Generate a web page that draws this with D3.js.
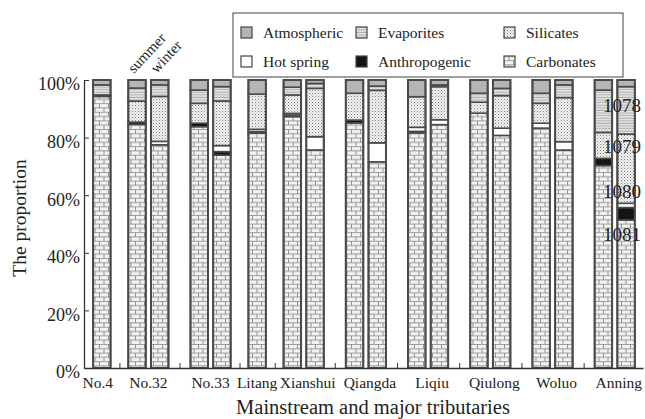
<!DOCTYPE html>
<html><head><meta charset="utf-8">
<script src="https://cdn.jsdelivr.net/npm/d3@7"></script>
<style>
html,body{margin:0;padding:0;background:#fff;}
svg{display:block;font-family:"Liberation Serif","Times New Roman",serif;}
</style></head>
<body><svg id="c" width="645" height="419"></svg>
<script>
// ---------- data ----------
const groups = ["No.4","No.32","No.33","Litang","Xianshui","Qiangda","Liqiu","Qiulong","Woluo","Anning"];
const barsPerGroup = [1,2,2,1,2,2,2,2,2,2];
const seasonLabels = ["summer","winter"];
const seriesNames = ["Carbonates","Anthropogenic","Hot spring","Silicates","Evaporites","Atmospheric"];
const carbonates    = [94.3,84.5,77.5,83.8,74.0,81.5,87.3,75.7,85.0,71.5,81.5,84.5,88.4,80.6,83.3,75.6,70.2,51.4];
const anthropogenic = [0.5,0.8,0,1.2,1.2,0.5,0.5,0,1.0,0,0.5,0,0,0,0,0,2.5,4.3];
const hotSpring     = [0,0,1.2,0,2.1,0.8,0.6,4.6,0,6.6,1.4,1.7,0,2.5,1.7,2.9,0,1.5];
const silicates     = [0,7.3,15.6,6.9,15.5,12.2,6.4,16.8,9.3,18.2,10.6,11.5,3.8,11.3,6.9,15.3,9.0,24.0];
const evaporites    = [3.5,4.5,4.0,4.6,5.0,0,2.7,1.7,0,1.5,0,0.6,3.1,2.5,3.5,4.4,14.7,16.5];
const atmospheric   = [1.7,2.8,1.7,3.5,2.3,4.9,2.5,1.2,4.6,2.1,5.8,1.7,4.6,2.9,4.6,1.7,3.5,2.3];
const yTicks = [0,0.2,0.4,0.6,0.8,1.0];
const annotLabels = ["1078","1079","1080","1081"];
const annotValues = [0.913,0.771,0.615,0.465];
const legendRows = [["Atmospheric","Evaporites","Silicates"],["Hot spring","Anthropogenic","Carbonates"]];

// ---------- build table ----------
const seriesArrays = [carbonates,anthropogenic,hotSpring,silicates,evaporites,atmospheric];
const bars = [];
const groupStarts = [], groupEnds = [];
let u = 0;
const barW = 0.77, pairGap = 0.74, singleGap = 0.55;
groups.forEach((g,gi)=>{
  if(gi>0){
    u += (barsPerGroup[gi]===1||barsPerGroup[gi-1]===1)?singleGap:pairGap;
  }
  groupStarts.push(u);
  for(let k=0;k<barsPerGroup[gi];k++){
    const idx = bars.length;
    const row = {group:g, gi, season: barsPerGroup[gi]===2?seasonLabels[k]:null, u0:u};
    seriesNames.forEach((s,si)=>row[s]=seriesArrays[si][idx]);
    bars.push(row);
    u += 1;
  }
  groupEnds.push(u-1+barW);
});
const groupCenters = groups.map((g,gi)=>(groupStarts[gi]+groupEnds[gi])/2);

// ---------- scales ----------
const svg = d3.select("#c");
const x = d3.scaleLinear().domain([-0.4, 24.22]).range([84, 643]);
const y = d3.scaleLinear().domain([0,1]).range([368, 80]);

// ---------- patterns ----------
const defs = svg.append("defs");
const brick = defs.append("pattern").attr("id","pCarb").attr("patternUnits","userSpaceOnUse")
  .attr("width",9).attr("height",8.6);
brick.append("rect").attr("width",9).attr("height",8.6).attr("fill","#f2f2f2");
brick.append("path").attr("d","M0,0.4H9M0,4.7H9M0.5,0.4V4.7M5,4.7V8.6")
  .attr("stroke","#8c8c8c").attr("stroke-width",0.9).attr("fill","none");
const dots = defs.append("pattern").attr("id","pSil").attr("patternUnits","userSpaceOnUse")
  .attr("width",3).attr("height",3);
dots.append("rect").attr("width",3).attr("height",3).attr("fill","#f3f3f3");
dots.append("rect").attr("x",0).attr("y",0).attr("width",1).attr("height",1).attr("fill","#7d7d7d");
dots.append("rect").attr("x",1.5).attr("y",1.5).attr("width",1).attr("height",1).attr("fill","#a8a8a8");
const wavy = defs.append("pattern").attr("id","pEva").attr("patternUnits","userSpaceOnUse")
  .attr("width",3).attr("height",2.6);
wavy.append("rect").attr("width",3).attr("height",2.6).attr("fill","#ebebeb");
wavy.append("path").attr("d","M0,2 L1.5,0.6 L3,2").attr("stroke","#7a7a7a").attr("stroke-width",0.75).attr("fill","none");

const fills = {
  "Carbonates":"url(#pCarb)",
  "Anthropogenic":"#151515",
  "Hot spring":"#ffffff",
  "Silicates":"url(#pSil)",
  "Evaporites":"url(#pEva)",
  "Atmospheric":"#b5b5b5"
};

// ---------- stack ----------
const stack = d3.stack().keys(seriesNames).offset(d3.stackOffsetExpand);
const stacked = stack(bars);

const gBars = svg.append("g");
stacked.forEach(layer=>{
  gBars.append("g").selectAll("rect")
    .data(layer.filter(d=>d[1]-d[0]>0.0001))
    .join("rect")
    .attr("x",d=>x(d.data.u0))
    .attr("width",x(barW)-x(0))
    .attr("y",d=>y(d[1]))
    .attr("height",d=>y(d[0])-y(d[1]))
    .attr("fill",fills[layer.key])
    .attr("stroke","#4a4a4a").attr("stroke-width",1.6);
});
gBars.append("g").selectAll("rect").data(bars).join("rect")
  .attr("x",d=>x(d.u0)).attr("width",x(barW)-x(0))
  .attr("y",y(1)).attr("height",y(0)-y(1))
  .attr("fill","none").attr("stroke","#4a4a4a").attr("stroke-width",2);

// ---------- axes ----------
const yAxis = d3.axisLeft(y).tickValues(yTicks).tickFormat(d3.format(".0%"))
  .tickSizeInner(-5).tickSizeOuter(0).tickPadding(4);
const gy = svg.append("g").attr("transform","translate(84,0)").call(yAxis);
gy.selectAll("text").attr("font-size",18).attr("fill","#222").attr("dy","0.55em")
  .attr("font-family","Liberation Serif");
gy.select(".domain").attr("stroke","#333").attr("stroke-width",1.3);
gy.selectAll(".tick line").attr("stroke","#333");

const gapMids = groups.slice(1).map((g,gi)=>(groupEnds[gi]+groupStarts[gi+1])/2);
const xAxis = d3.axisBottom(x).tickValues(gapMids).tickFormat("")
  .tickSizeInner(-5).tickSizeOuter(0);
const gx = svg.append("g").attr("transform","translate(0,368)").call(xAxis);
gx.select(".domain").attr("stroke","#333").attr("stroke-width",1.3);
gx.selectAll(".tick line").attr("stroke","#333");

// category labels (centred under groups, small nudges as in the original)
svg.append("g").selectAll("text").data(groups).join("text")
  .attr("x",(d,i)=>x(groupCenters[i]) + (i===0 ? -4 : (i>=4 ? 4 : 0)))
  .attr("y",388).attr("text-anchor","middle")
  .attr("font-size",15.5).attr("fill","#222").text(d=>d);

// axis titles
svg.append("text").attr("x",373).attr("y",414).attr("text-anchor","middle")
  .attr("font-size",20.5).attr("fill","#222").text("Mainstream and major tributaries");
svg.append("text").attr("transform","translate(26,218) rotate(-90)").attr("text-anchor","middle")
  .attr("font-size",19.5).attr("fill","#222").text("The proportion");

// season labels above No.32
svg.append("g").selectAll("text").data(bars.filter(d=>d.group==="No.32")).join("text")
  .attr("transform",d=>`translate(${x(d.u0+barW/2)-3},74) rotate(-47)`)
  .attr("font-size",15).attr("fill","#222").text(d=>d.season);

// annotations
svg.append("g").selectAll("text").data(annotLabels).join("text")
  .attr("x",641).attr("y",(d,i)=>y(annotValues[i]))
  .attr("dy","0.35em").attr("text-anchor","end")
  .attr("font-size",19).attr("fill","#222").text(d=>d);

// ---------- legend ----------
const lg = svg.append("g");
lg.append("rect").attr("x",233).attr("y",13).attr("width",390).attr("height",64)
  .attr("fill","#fff").attr("stroke","#444").attr("stroke-width",1);
const colSw = [241,356,504], colTx = [263,378,526], rowTop = [27,56];
legendRows.forEach((row,ri)=>row.forEach((name,ci)=>{
  lg.append("rect").attr("x",colSw[ci]).attr("y",rowTop[ri]).attr("width",11).attr("height",11)
    .attr("fill",fills[name]).attr("stroke","#444").attr("stroke-width",1.2);
  lg.append("text").attr("x",colTx[ci]).attr("y",rowTop[ri]+11).attr("font-size",15.5)
    .attr("fill","#222").text(name);
}));
</script></body></html>
